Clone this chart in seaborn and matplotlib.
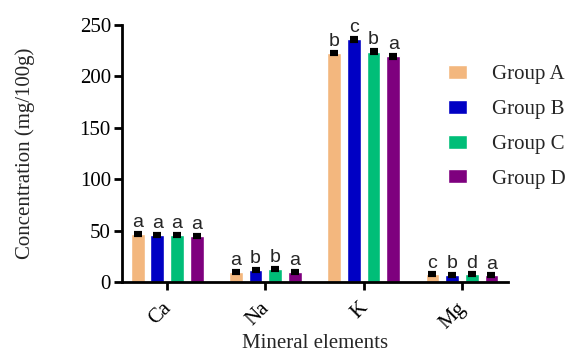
import numpy as np
import pandas as pd
import matplotlib
matplotlib.use("Agg")
import matplotlib.pyplot as plt
import matplotlib.transforms as mtransforms
import seaborn as sns

elements = ["Ca", "Na", "K", "Mg"]
groups = ["Group A", "Group B", "Group C", "Group D"]
colors = ["#F3B77E", "#0000C4", "#00BE78", "#7E007E"]

# means per group, in element order
group_a = [47.0, 9.8, 223.0, 7.5]
group_b = [45.8, 12.0, 236.0, 6.6]
group_c = [45.6, 13.0, 224.2, 7.5]
group_d = [44.6, 9.8, 219.5, 6.5]
errors = [1.0, 1.0, 1.2, 0.9]
letters = [
    ["a", "a", "b", "c"],
    ["a", "b", "c", "b"],
    ["a", "b", "b", "d"],
    ["a", "a", "a", "a"],
]

rows = []
for g, vals in zip(groups, [group_a, group_b, group_c, group_d]):
    for e, v in zip(elements, vals):
        rows.append({"element": e, "group": g, "value": v})
df = pd.DataFrame(rows)

sns.set_style("ticks")
plt.rcParams["font.family"] = ["Liberation Serif", "DejaVu Serif"]

fig = plt.figure(figsize=(5.69, 3.53), dpi=100)
ax = fig.add_axes([0.2144, 0.2011, 0.6786, 0.728])

sns.barplot(data=df, x="element", y="value", hue="group", order=elements,
            hue_order=groups, palette=colors, width=0.8, gap=0.3,
            errorbar=None, saturation=1, ax=ax, legend=True)

# error bars and significance letters
bar_groups = list(ax.containers)
for gi, cont in enumerate(bar_groups):
    for ei, bar in enumerate(cont.patches):
        x = bar.get_x() + bar.get_width() / 2
        h = bar.get_height()
        err = errors[ei]
        ax.errorbar(x, h, yerr=err, fmt="none", ecolor="black",
                    elinewidth=3, capsize=3, capthick=3, zorder=5)
        ax.text(x, h + err + 1.8, letters[gi][ei], ha="center", va="bottom",
                fontsize=14, family=["Liberation Sans", "DejaVu Sans"])

ax.set_xlim(-0.46, 3.47)
ax.set_ylim(0, 250)
ax.set_yticks(np.arange(0, 251, 50))
ax.tick_params(axis="both", direction="out", length=6, width=2,
               labelsize=15, colors="black")
ax.tick_params(axis="y", pad=2)
ax.tick_params(axis="x", pad=6)
shift = mtransforms.ScaledTranslation(-4 / 72, 0, fig.dpi_scale_trans)
for lbl in ax.get_xticklabels():
    lbl.set_rotation(45)
    lbl.set_ha("right")
    lbl.set_rotation_mode("anchor")
    lbl.set_transform(lbl.get_transform() + shift)

for side in ["left", "bottom"]:
    ax.spines[side].set_linewidth(2)
    ax.spines[side].set_color("black")
sns.despine(ax=ax)

ax.set_xlabel("Mineral elements", fontsize=15, labelpad=1)
ax.set_ylabel("Concentration (mg/100g)", fontsize=15, labelpad=32)

ax.legend(frameon=False, loc="upper left", bbox_to_anchor=(0.824, 0.876),
          fontsize=15, handlelength=0.9, handleheight=0.65,
          labelspacing=0.74, handletextpad=1.2, borderaxespad=0)

fig.savefig("out.png", dpi=100)
